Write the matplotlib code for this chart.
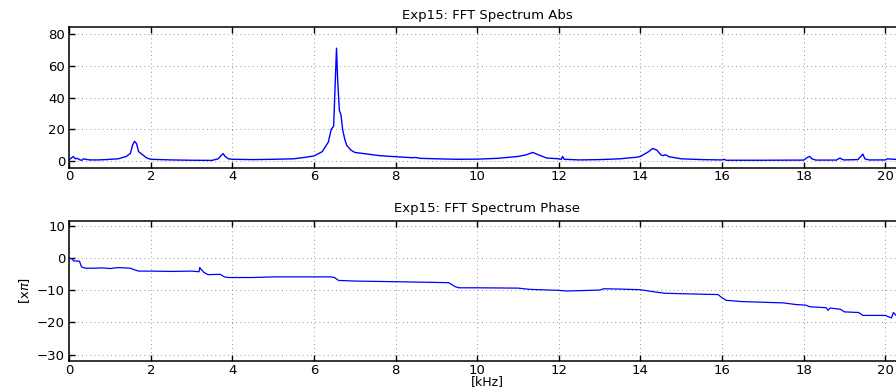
import numpy as np
import matplotlib
matplotlib.use("Agg")
import matplotlib.pyplot as plt

# values (frequency in kHz)
abs_freq = [0.0, 0.05, 0.1, 0.15, 0.2, 0.25, 0.3, 0.35, 0.4, 0.5, 0.7, 0.9,
            1.0, 1.2, 1.4, 1.5, 1.55, 1.6, 1.65, 1.7, 1.8, 1.9, 2.0, 2.5,
            3.0, 3.5, 3.65, 3.72, 3.77, 3.82, 3.9, 4.0, 4.5, 5.0, 5.5, 5.8,
            6.0, 6.2, 6.35, 6.42, 6.48, 6.52, 6.55, 6.58, 6.62, 6.66, 6.7,
            6.75, 6.8, 6.9, 7.0, 7.3, 7.6, 8.0, 8.4, 8.5, 8.6, 9.0, 9.5,
            10.0, 10.5, 11.0, 11.2, 11.36, 11.5, 11.7, 12.0, 12.06, 12.09,
            12.13, 12.5, 13.0, 13.5, 13.9, 14.0, 14.2, 14.3, 14.4, 14.5,
            14.55, 14.62, 14.7, 15.0, 15.5, 16.0, 16.05, 16.1, 17.0, 18.0,
            18.1, 18.15, 18.2, 18.3, 18.8, 18.89, 18.95, 19.0, 19.33, 19.4,
            19.45, 19.5, 19.6, 20.0, 20.05, 20.2, 20.5]
abs_vals = [1.0, 2.0, 2.9, 1.5, 1.8, 1.0, 0.5, 1.5, 1.2, 0.8, 0.8, 1.0,
            1.2, 1.5, 3.0, 5.0, 10.0, 12.5, 11.0, 6.0, 4.0, 2.0, 1.2, 0.8,
            0.6, 0.5, 1.5, 3.5, 4.8, 3.0, 1.5, 1.2, 1.0, 1.2, 1.5, 2.5,
            3.3, 6.0, 12.0, 20.0, 22.0, 50.0, 71.0, 50.0, 32.0, 29.0, 20.0,
            14.0, 10.0, 7.0, 5.5, 4.5, 3.5, 2.8, 2.2, 2.3, 1.8, 1.5, 1.2,
            1.3, 1.8, 3.0, 4.0, 5.5, 4.0, 2.0, 1.5, 1.2, 3.0,
            1.2, 0.8, 1.0, 1.5, 2.5, 3.0, 6.0, 8.0, 7.0, 4.0,
            3.5, 4.0, 2.8, 1.5, 1.0, 0.8, 1.2, 0.6, 0.6, 0.7,
            2.5, 3.0, 1.5, 0.7, 0.7, 2.0, 1.0, 0.8, 1.0, 3.0,
            4.5, 1.5, 0.8, 0.8, 1.5, 1.2, 1.0]

phase_freq = [0.0, 0.08, 0.1, 0.25, 0.3, 0.4, 0.6, 0.8, 1.0, 1.2, 1.5,
              1.6, 1.7, 2.0, 2.5, 3.0, 3.18, 3.2, 3.22, 3.3, 3.4, 3.7,
              3.8, 3.9, 4.5, 5.0, 5.5, 6.4, 6.5, 6.6, 7.0, 8.0, 9.3,
              9.45, 9.55, 10.0, 11.0, 11.3, 12.0, 12.2, 13.0, 13.1, 13.5,
              14.0, 14.3, 14.6, 15.5, 15.9, 16.0, 16.1, 16.5, 17.5, 17.8,
              18.05, 18.15, 18.55, 18.6, 18.65, 18.9, 19.0, 19.35, 19.45,
              20.0, 20.15, 20.2, 20.3, 20.5]
phase_vals = [0.0, -0.2, -0.8, -0.9, -2.7, -3.1, -3.1, -3.0, -3.2, -2.9,
              -3.1, -3.6, -4.0, -4.0, -4.1, -4.0, -4.2, -2.9, -3.3, -4.4,
              -5.1, -5.0, -5.8, -6.0, -6.0, -5.8, -5.8, -5.8, -6.0, -6.9,
              -7.1, -7.3, -7.6, -8.8, -9.2, -9.2, -9.3, -9.7, -10.0, -10.2,
              -9.9, -9.5, -9.6, -9.8, -10.4, -10.9, -11.2, -11.3, -12.3,
              -13.1, -13.5, -13.9, -14.4, -14.6, -15.1, -15.4, -16.2, -15.5,
              -15.9, -16.7, -16.9, -17.8, -17.8, -18.6, -16.9, -18.3, -18.3]

x_ticks = [0, 2, 4, 6, 8, 10, 12, 14, 16, 18, 20]
abs_ticks = [0, 20, 40, 60, 80]
phase_ticks = [-30, -20, -10, 0, 10]

plt.rcParams['font.family'] = ['DejaVu Sans']
plt.rcParams['font.size'] = 9


def style_axes(ax):
    """MATLAB-like look: inward ticks on all sides and dotted grid"""
    ax.tick_params(direction='in', top=True, right=True, length=4,
                   width=1.0, pad=3, labelsize=9.5)
    ax.tick_params(axis='x', pad=2)
    ax.grid(True, linestyle=(0, (1, 4)), color='0.45', linewidth=0.6)
    for side in ['left', 'bottom', 'top', 'right']:
        ax.spines[side].set_linewidth(1.1)
    ax.set_xlim(0, 20.5)
    ax.set_xticks(x_ticks)


fig = plt.figure(figsize=(8.96, 3.87), dpi=100)
ax1 = fig.add_axes([0.0773, 0.567, 0.9335, 0.362])
ax2 = fig.add_axes([0.0773, 0.0672, 0.9335, 0.3625])

ax1.plot(abs_freq, abs_vals, color='#0000ff', linewidth=1.0)
style_axes(ax1)
ax1.set_ylim(-4, 84)
ax1.set_yticks(abs_ticks)
ax1.set_title('Exp15: FFT Spectrum Abs', fontsize=9.5, pad=6)

ax2.plot(phase_freq, phase_vals, color='#0000ff', linewidth=0.9)
style_axes(ax2)
ax2.set_ylim(-32, 11.7)
ax2.set_yticks(phase_ticks)
ax2.set_title('Exp15: FFT Spectrum Phase', fontsize=9.5, pad=6)
ax2.set_xlabel('[kHz]', fontsize=9, labelpad=-1)
ax2.set_ylabel(r'[x$\pi$]', fontsize=9.5, labelpad=4)

fig.savefig('out.png', dpi=100)
